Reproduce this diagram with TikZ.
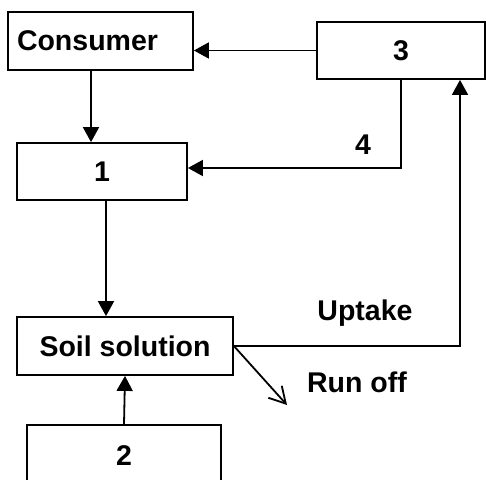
\documentclass[tikz,border=0pt]{standalone}
\usepackage{fontspec}
\setmainfont{Liberation Sans}
\usetikzlibrary{arrows.meta}
\tikzset{
  box/.style={draw, rectangle, line width=1.8pt, minimum height=57pt, inner sep=0pt},
  flow/.style={line width=1.8pt, -{Triangle[length=15pt,width=16pt]}},
}
\begin{document}
\begin{tikzpicture}[x=1pt, y=-1pt, font=\fontsize{28.5}{30}\selectfont\bfseries]
\useasboundingbox (0,0) rectangle (486,479);
\clip (0,0) rectangle (486,479);
\node[box, inner xsep=9pt, text width=167pt, align=left, minimum height=58pt] (consumer) at (100.5,41) {Consumer};
\node[box, minimum width=168pt] (three) at (401,50.5) {3};
\node[box, minimum width=170pt] (one) at (102,171.5) {1};
\node[box, minimum width=216pt, minimum height=58pt] (soil) at (125,346) {Soil solution};
\node[box, minimum width=194pt, minimum height=62pt] (two) at (124,456) {2};
\node (four) at (363,145) {4};
\node (uptake) at (365,313) {Uptake};
\node (runofflabel) at (357,382) {Run off};
\coordinate (runoff) at (287,405);
\draw[flow] (three.west) -- (three.west -| consumer.east);
\draw[flow] ([xshift=-9.5pt]consumer.south) -- ([xshift=-9.5pt]consumer.south |- one.north);
\draw[flow] (three.south) |- ([yshift=3.5pt]one.east);
\draw[flow] ([xshift=4pt]one.south) -- ([xshift=4pt]one.south |- soil.north);
\draw[flow] (two.north) -- (soil.south);
\draw[flow] (soil.east) -| ([xshift=59pt]three.south);
\draw[line width=1.8pt, -{Straight Barb[length=16pt,width=18pt]}] (soil.east) -- (runoff);
\end{tikzpicture}
\end{document}
